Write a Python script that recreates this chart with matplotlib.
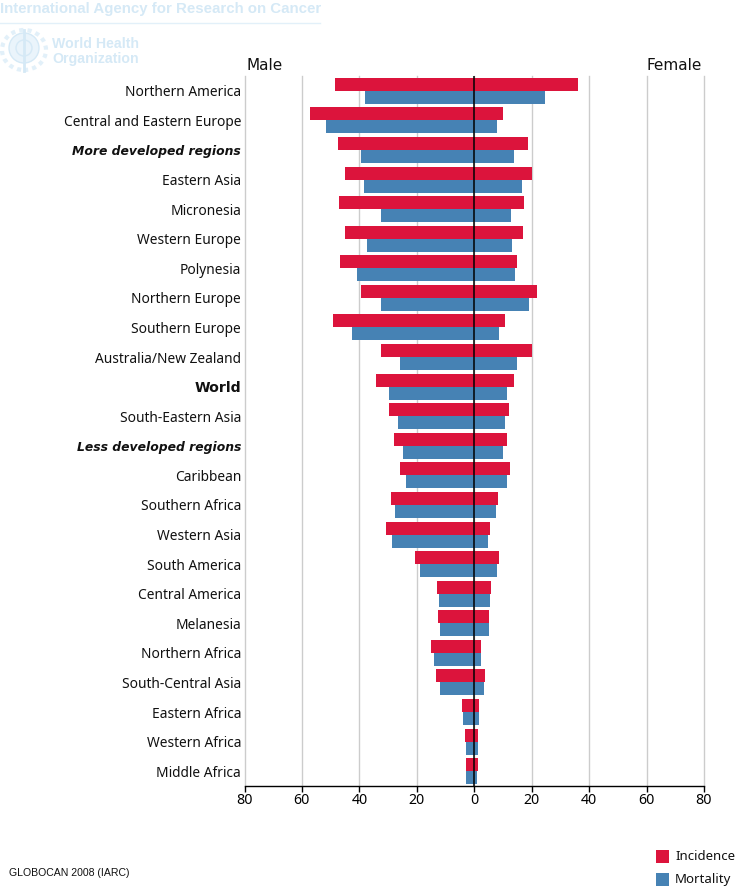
import matplotlib
matplotlib.use("Agg")
import matplotlib.pyplot as plt
from matplotlib.patches import Ellipse, Rectangle

regions = ["Northern America", "Central and Eastern Europe", "More developed regions", "Eastern Asia",
           "Micronesia", "Western Europe", "Polynesia", "Northern Europe", "Southern Europe",
           "Australia/New Zealand", "World", "South-Eastern Asia", "Less developed regions", "Caribbean",
           "Southern Africa", "Western Asia", "South America", "Central America", "Melanesia",
           "Northern Africa", "South-Central Asia", "Eastern Africa", "Western Africa", "Middle Africa"]
male_incidence = [48.5, 57.2, 47.5, 45.0, 47.0, 45.0, 46.8, 39.5, 49.2, 32.5, 34.2, 29.7,
                  28.0, 25.9, 29.0, 30.8, 20.7, 13.0, 12.7, 15.0, 13.4, 4.3, 3.3, 3.0]
male_mortality = [38.0, 51.6, 39.5, 38.4, 32.5, 37.4, 40.9, 32.5, 42.6, 26.0, 29.7, 26.6,
                  24.9, 23.8, 27.7, 28.7, 19.0, 12.3, 12.0, 14.0, 12.0, 4.0, 3.0, 3.0]
female_incidence = [36.0, 10.0, 18.6, 20.0, 17.2, 16.9, 15.0, 22.0, 10.6, 20.0, 13.7, 12.0,
                    11.3, 12.3, 8.2, 5.4, 8.5, 5.7, 5.0, 2.3, 3.7, 1.6, 1.2, 1.2]
female_mortality = [24.5, 8.0, 13.7, 16.5, 12.7, 13.0, 14.2, 19.0, 8.5, 14.8, 11.3, 10.6,
                    9.9, 11.3, 7.5, 4.7, 7.8, 5.4, 5.0, 2.3, 3.3, 1.6, 1.2, 0.9]
bold_italic = ["More developed regions", "Less developed regions"]
bold = ["World"]
ticks = [-80, -60, -40, -20, 0, 20, 40, 60, 80]
RED, BLUE = "#DC143C", "#4682B4"
FONT = "DejaVu Sans"
LABEL = "Noto Sans"
W, H = 736, 888

fig = plt.figure(figsize=(W / 100, H / 100), dpi=100, facecolor="white")
ax = fig.add_axes([244.5 / W, 1 - 786 / H, (704 - 244.5) / W, (786 - 76) / H])
ax.set_xlim(-80, 80)
ax.set_ylim(len(regions) - 0.5, -0.5)
ax.set_axisbelow(True)
ax.grid(axis="x", color="#CCCCCC", lw=1)
for g in ax.get_xgridlines():
    g.set_clip_on(False)
ypos = list(range(len(regions)))
h = 0.44
ax.barh([y - h / 2 for y in ypos], [-v for v in male_incidence], h, color=RED, lw=0)
ax.barh([y + h / 2 for y in ypos], [-v for v in male_mortality], h, color=BLUE, lw=0)
ax.barh([y - h / 2 for y in ypos], female_incidence, h, color=RED, lw=0)
ax.barh([y + h / 2 for y in ypos], female_mortality, h, color=BLUE, lw=0)
ax.axvline(0, color="black", lw=1.1, zorder=5)
for s in ["top", "left", "right"]:
    ax.spines[s].set_visible(False)
ax.spines["bottom"].set_color("black")
ax.spines["bottom"].set_linewidth(1)
ax.set_xticks(ticks)
ax.set_xticklabels([str(abs(t)) for t in ticks], fontsize=10.2, family=LABEL)
ax.tick_params(axis="x", length=4, width=1, pad=1, color="black")
ax.set_yticks(ypos)
ax.set_yticklabels(regions, fontsize=9.9, family=LABEL, color="#111111")
ax.tick_params(axis="y", length=0, pad=2.5)
for lab in ax.get_yticklabels():
    t = lab.get_text()
    if t in bold_italic:
        lab.set_family(FONT)
        lab.set_fontweight("bold")
        lab.set_fontstyle("italic")
        lab.set_fontsize(8.9)
    elif t in bold:
        lab.set_family(FONT)
        lab.set_fontweight("bold")
        lab.set_fontsize(10.2)


def px(x, y, s, **kw):
    fig.text(x / W, 1 - y / H, s, **kw)


px(247, 66, "Male", fontsize=11, family=FONT, va="center", ha="left", color="#111111")
px(647, 66, "Female", fontsize=11, family=FONT, va="center", ha="left", color="#111111")
LOGO = "#D5E9F6"
LOGOFONT = "Liberation Sans"
px(0, 9, "International Agency for Research on Cancer", fontsize=10.8, family=LOGOFONT,
   weight="bold", color=LOGO, va="center")
fig.add_artist(plt.Line2D([0, 320 / W], [1 - 23.5 / H, 1 - 23.5 / H], color="#E2F0F9", lw=1))
px(52, 44, "World Health", fontsize=10.2, family=LOGOFONT, weight="bold", color=LOGO, va="center")
px(52, 59.5, "Organization", fontsize=10.2, family=LOGOFONT, weight="bold", color=LOGO, va="center")
sx, sy = 1 / W, 1 / H
fig.add_artist(Ellipse((24 * sx, 1 - 48 * sy), 30 * sx, 30 * sy, transform=fig.transFigure,
                       fc="#EAF4FB", ec=LOGO, lw=1))
fig.add_artist(Ellipse((24 * sx, 1 - 48 * sy), 16 * sx, 16 * sy, transform=fig.transFigure,
                       fc="none", ec=LOGO, lw=1))
fig.add_artist(Ellipse((24 * sx, 1 - 50 * sy), 44 * sx, 40 * sy, transform=fig.transFigure,
                       fc="none", ec="#E2F0F9", lw=3, ls=(0, (1, 1))))
fig.add_artist(plt.Line2D([24 * sx, 24 * sx], [1 - 30 * sy, 1 - 71 * sy], color=LOGO, lw=2))
px(9, 873, "GLOBOCAN 2008 (IARC)", fontsize=7.6, family="Liberation Sans", va="center", color="#111111")
for y, c, s in [(856, RED, "Incidence"), (879, BLUE, "Mortality")]:
    fig.add_artist(Rectangle((656 * sx, 1 - (y + 6.5) * sy), 13 * sx, 13 * sy, transform=fig.transFigure,
                             fc=c, ec="none"))
    px(675, y, s, fontsize=9.5, family=LABEL, va="center", color="#111111")
fig.savefig("out.png", dpi=100)
